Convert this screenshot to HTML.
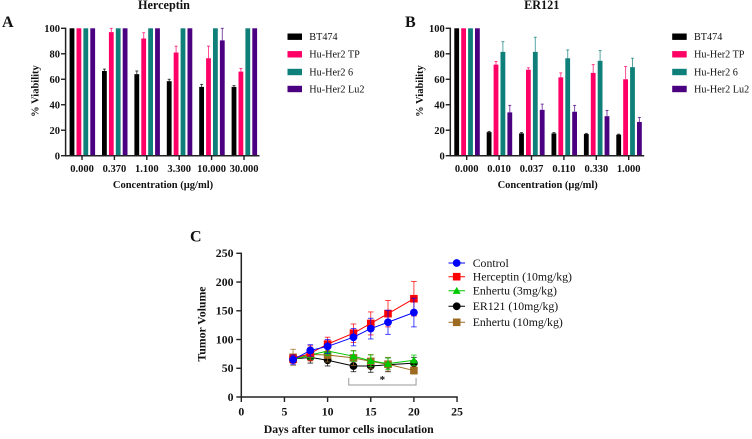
<!DOCTYPE html>
<html>
<head>
<meta charset="utf-8">
<style>
html,body{margin:0;padding:0;background:#fff;width:752px;height:439px;overflow:hidden}
svg{display:block}
text{font-family:"Liberation Serif",serif;fill:#111}
.b{font-weight:bold}
</style>
</head>
<body>
<svg id="fig" width="752" height="439" viewBox="0 0 752 439" xmlns="http://www.w3.org/2000/svg"></svg>
<script>
// Panel A and B data
const barSeries = ['BT474', 'Hu-Her2 TP', 'Hu-Her2 6', 'Hu-Her2 Lu2'];
const barColors = ['#000000', '#ff0066', '#0f7f7a', '#4b0082'];
const barTicks = [0, 20, 40, 60, 80, 100];
const catsA = ['0.000', '0.370', '1.100', '3.300', '10.000', '30.000'];
const a_bt474 = [100, 66.5, 64, 58.5, 54, 54];
const a_tp = [100, 97, 92, 81, 76.5, 66];
const a_h6 = [100, 100, 100, 100, 100, 100];
const a_lu2 = [100, 100, 100, 100, 90.5, 100];
const a_bt474_err = [0, 1.5, 2.5, 1.5, 2, 1];
const a_tp_err = [0, 3, 4.5, 5, 9.5, 2.5];
const a_h6_err = [0, 0, 0, 0, 0, 0];
const a_lu2_err = [0, 0, 0, 0, 9.5, 0];
const catsB = ['0.000', '0.010', '0.037', '0.110', '0.330', '1.000'];
const b_bt474 = [100, 18.5, 17.5, 17.5, 17, 16.5];
const b_tp = [100, 71.5, 67.5, 61.5, 65, 60];
const b_h6 = [100, 81.5, 81.5, 76.5, 74.5, 69.5];
const b_lu2 = [100, 34, 36, 34.5, 31, 26.5];
const b_bt474_err = [0, 0.6, 0.6, 0.6, 0.5, 0.4];
const b_tp_err = [0, 2.5, 1.5, 3.5, 6.5, 10];
const b_h6_err = [0, 8, 11.5, 6.5, 8, 7];
const b_lu2_err = [0, 5.5, 4.5, 5, 4.5, 3.5];
// Panel C data
const days = [6, 8, 10, 13, 15, 17, 20];
const lineNames = ['Control', 'Herceptin (10mg/kg)', 'Enhertu (3mg/kg)', 'ER121 (10mg/kg)', 'Enhertu (10mg/kg)'];
const lineColors = ['#0000ff', '#ff0000', '#00c800', '#000000', '#9c6a20'];
const lineMarkers = ['circle', 'square', 'triangle', 'circle', 'square'];
const control = [65, 81, 88, 104, 119, 130, 147];
const herceptin = [66, 76, 92, 111, 128, 145, 171];
const enhertu3 = [65, 73, 80, 71, 63, 58, 64];
const er121 = [66, 69, 64, 54, 54, 56, 59];
const enhertu10 = [69, 74, 73, 68, 62, 57, 46];
const control_err = [8, 10, 12, 15, 18, 21, 25];
const herceptin_err = [8, 13, 12, 16, 20, 23, 30];
const enhertu3_err = [5, 8, 8, 9, 10, 10, 9];
const er121_err = [6, 10, 10, 10, 11, 12, 10];
const enhertu10_err = [14, 10, 12, 13, 12, 12, 6];
const cXTicks = [0, 5, 10, 15, 20, 25];
const cYTicks = [0, 50, 100, 150, 200, 250];
const bracketDays = [12.45, 20.25];

const svg = document.getElementById('fig');
function mk(tag, attrs, parent, txt) {
  const e = document.createElementNS('http://www.w3.org/2000/svg', tag);
  for (const k in attrs) e.setAttribute(k, attrs[k]);
  if (txt !== undefined) e.textContent = txt;
  (parent || svg).appendChild(e);
  return e;
}
function label(txt, x, y, size, anchor, bold, name, rot) {
  const el = mk('text', {x: x, y: y, 'font-size': size, 'text-anchor': anchor, class: bold ? 'b' : ''}, svg, txt);
  if (rot) el.setAttribute('transform', 'rotate(-90 ' + x + ' ' + y + ')');
  
  
  return el;
}
function seg(x1, y1, x2, y2, col, w, name, op) {
  const el = mk('line', {x1: x1, y1: y1, x2: x2, y2: y2, stroke: col, 'stroke-width': w});
  if (op) el.setAttribute('stroke-opacity', op);
  
  
  return el;
}

function barPanel(cfg) {
  const y = v => 155.7 - v * 1.274;
  const ox = cfg.ox;
  // axes
  seg(ox + 65.6, y(100) - 0.7, ox + 65.6, y(0) + 0.7, '#222', 1.5, cfg.id + '-y-axis');
  seg(ox + 65, y(0), ox + 259.5, y(0), '#222', 1.5, cfg.id + '-x-axis');
  barTicks.forEach(t => {
    seg(ox + 61, y(t), ox + 65.6, y(t), '#222', 1.4, cfg.id + '-y-tick');
    label(String(t), ox + 60, y(t) + 3.6, 10.5, 'end', true, cfg.id + '-y-tick-label');
  });
  cfg.cats.forEach((c, i) => {
    const cx = ox + 82 + i * 32.4;
    seg(cx, 155.7, cx, 160, '#222', 1.4, cfg.id + '-x-tick');
    label(c, cx, 172, 10.5, 'middle', true, cfg.id + '-x-tick-label');
    cfg.vals.forEach((ser, s) => {
      const bx = cx - 12.4 + s * 6.9;
      const v = ser[i], e = cfg.errs[s][i];
      if (e > 0) {
        const top = Math.max(y(v + e), y(100));
        seg(bx + 2.4, y(v), bx + 2.4, top, barColors[s], 1, cfg.id + '-error-bar', 0.7);
        seg(bx + 0.9, top, bx + 3.9, top, barColors[s], 0.9, cfg.id + '-error-cap', 0.8);
      }
      const r = mk('rect', {x: bx, y: y(v), width: 4.8, height: y(0) - y(v) - 0.6, fill: barColors[s]});
      
      
    });
  });
  // legend
  const rows = [36.7, 54.3, 72, 89];
  barSeries.forEach((n, s) => {
    const r = mk('rect', {x: ox + 287.5, y: rows[s] - 3.2, width: 14.5, height: 6.4, fill: barColors[s]});
    
    
    label(n, ox + 309.3, rows[s] + 3.4, 10.2, 'start', false, 'legend-entry');
  });
  label(cfg.title, ox + cfg.titleX, 9, 12.2, 'middle', true, cfg.id + '-chart-title');
  label('% Viability', ox + 38.5, 91, 10.5, 'middle', true, cfg.id + '-y-axis-title', true);
  label('Concentration (µg/ml)', ox + 163, 188, 10.5, 'middle', true, cfg.id + '-x-axis-title');
}
barPanel({id: 'panel-a', ox: 0, title: 'Herceptin', titleX: 164, cats: catsA,
  vals: [a_bt474, a_tp, a_h6, a_lu2], errs: [a_bt474_err, a_tp_err, a_h6_err, a_lu2_err]});
barPanel({id: 'panel-b', ox: 8.7 + 376, title: 'ER121', titleX: 157, cats: catsB,
  vals: [b_bt474, b_tp, b_h6, b_lu2], errs: [b_bt474_err, b_tp_err, b_h6_err, b_lu2_err]});

label('A', 2, 27, 16, 'start', true, 'panel-a-label');
label('B', 405, 27, 16, 'start', true, 'panel-b-label');
label('C', 190, 241.5, 16, 'start', true, 'panel-c-label');

// Panel C
const X = d => 241.3 + d * 8.63;
const Y = v => 397 - v * 0.5748;
function marker(type, x, y, col, name) {
  let el;
  if (type === 'circle') el = mk('circle', {cx: x, cy: y, r: 3.9, fill: col});
  else if (type === 'square') el = mk('rect', {x: x - 3.8, y: y - 3.8, width: 7.6, height: 7.6, fill: col});
  else el = mk('polygon', {points: (x - 4) + ',' + (y + 3.2) + ' ' + (x + 4) + ',' + (y + 3.2) + ' ' + x + ',' + (y - 3.8), fill: col});
  
  
}
seg(X(0), Y(250) - 0.7, X(0), Y(0) + 0.7, '#222', 1.5, 'panel-c-y-axis');
seg(X(0) - 0.7, Y(0), X(25) + 0.7, Y(0), '#222', 1.5, 'panel-c-x-axis');
cYTicks.forEach(t => {
  seg(X(0) - 5, Y(t), X(0), Y(t), '#222', 1.4, 'panel-c-y-tick');
  label(String(t), 233.5, Y(t) + 3.9, 11.8, 'end', true, 'panel-c-y-tick-label');
});
cXTicks.forEach(t => {
  seg(X(t), Y(0), X(t), Y(0) + 5, '#222', 1.4, 'panel-c-x-tick');
  label(String(t), X(t), 415.5, 11.8, 'middle', true, 'panel-c-x-tick-label');
});
label('Tumor Volume', 205.5, 324, 11.8, 'middle', true, 'panel-c-y-axis-title', true);
label('Days after tumor cells inoculation', 348.7, 433, 11.8, 'middle', true, 'panel-c-x-axis-title');

const lineVals = [control, herceptin, enhertu3, er121, enhertu10];
const lineErrs = [control_err, herceptin_err, enhertu3_err, er121_err, enhertu10_err];
[3, 4, 2, 1, 0].forEach(s => {
  const col = lineColors[s];
  lineVals[s].forEach((v, i) => {
    const e = lineErrs[s][i], x = X(days[i]);
    seg(x, Y(v - e), x, Y(v + e), col, 0.9, 'error-bar', 0.8);
    seg(x - 2.8, Y(v + e), x + 2.8, Y(v + e), col, 0.9, 'error-cap', 0.8);
    seg(x - 2.8, Y(v - e), x + 2.8, Y(v - e), col, 0.9, 'error-cap', 0.8);
  });
  const pl = mk('polyline', {points: lineVals[s].map((v, i) => X(days[i]) + ',' + Y(v)).join(' '), fill: 'none', stroke: col, 'stroke-width': 1});
  
  
  lineVals[s].forEach((v, i) => marker(lineMarkers[s], X(days[i]), Y(v), col, 'series-point'));
});

// significance bracket
const bx1 = X(bracketDays[0]), bx2 = X(bracketDays[1]);
const br = mk('polyline', {points: bx1 + ',378 ' + bx1 + ',385 ' + bx2 + ',385 ' + bx2 + ',378', fill: 'none', stroke: '#999', 'stroke-width': 1});


label('*', (bx1 + bx2) / 2, 383, 11, 'middle', true, 'significance-star');

// Panel C legend
const legendRows = [263, 276.7, 290.7, 306.3, 322.3];
lineNames.forEach((n, s) => {
  seg(448.5, legendRows[s], 465, legendRows[s], lineColors[s], 1, 'legend-line');
  marker(lineMarkers[s], 456.7, legendRows[s], lineColors[s], 'legend-marker');
  label(n, 472.7, legendRows[s] + 3.8, 11.8, 'start', false, 'legend-entry');
});
</script>
</body>
</html>
